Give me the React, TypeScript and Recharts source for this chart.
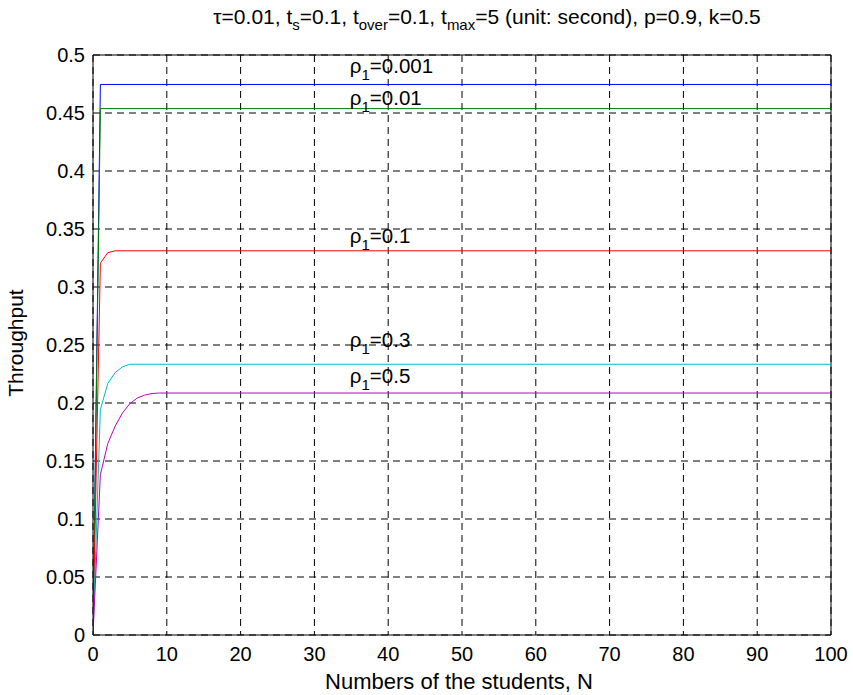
import { LineChart, Line, XAxis, YAxis, CartesianGrid, ReferenceLine, ReferenceDot } from "recharts";

type Pt = { n: number; v: number };

// throughput vs. number of students, one curve per rho_1
const rho0001: Pt[] = [
  { n: 0, v: 0 },
  { n: 1, v: 0.4746 },
  { n: 100, v: 0.4746 },
];
const rho001: Pt[] = [
  { n: 0, v: 0 },
  { n: 1, v: 0.4538 },
  { n: 100, v: 0.4538 },
];
const rho01: Pt[] = [
  { n: 0, v: 0 },
  { n: 1, v: 0.3206 },
  { n: 2, v: 0.3296 },
  { n: 3, v: 0.3312 },
  { n: 100, v: 0.3312 },
];
const rho03: Pt[] = [
  { n: 0, v: 0 },
  { n: 1, v: 0.1944 },
  { n: 2, v: 0.2168 },
  { n: 3, v: 0.2262 },
  { n: 4, v: 0.2312 },
  { n: 5, v: 0.2334 },
  { n: 100, v: 0.2334 },
];
const rho05: Pt[] = [
  { n: 0, v: 0 },
  { n: 1, v: 0.1383 },
  { n: 2, v: 0.165 },
  { n: 3, v: 0.18 },
  { n: 4, v: 0.1915 },
  { n: 5, v: 0.1995 },
  { n: 6, v: 0.2043 },
  { n: 7, v: 0.2068 },
  { n: 8, v: 0.2082 },
  { n: 9, v: 0.2086 },
  { n: 100, v: 0.2086 },
];

const xTicks = [0, 10, 20, 30, 40, 50, 60, 70, 80, 90, 100];
const yTicks = [0, 0.05, 0.1, 0.15, 0.2, 0.25, 0.3, 0.35, 0.4, 0.45, 0.5];

// curve annotations: rho_1 value, text anchor (n, throughput)
const rhoLabels = ["0.001", "0.01", "0.1", "0.3", "0.5"];
const labelN = [34.8, 34.8, 34.8, 34.8, 34.8];
const labelY = [0.4847, 0.4569, 0.3379, 0.2483, 0.2172];

const series = [
  { data: rho0001, color: "#0000ff" },
  { data: rho001, color: "#008000" },
  { data: rho01, color: "#ff0000" },
  { data: rho03, color: "#00bfbf" },
  { data: rho05, color: "#bf00bf" },
];

const FONT = "'Liberation Sans', Arial, Helvetica, sans-serif";

const RhoLabel = ({ viewBox, value }: any) => {
  const x = viewBox.x + viewBox.width / 2;
  const y = viewBox.y + viewBox.height / 2;
  return (
    <text x={x} y={y} fontFamily={FONT} fontSize={20.5} fill="#000">
      ρ
      <tspan fontSize={15} dy={7}>
        1
      </tspan>
      <tspan dy={-7}>={value}</tspan>
    </text>
  );
};

export default function App() {
  return (
    <div style={{ position: "absolute", left: 0, top: 0, width: 853, height: 695, background: "#fff" }}>
      <LineChart
        width={853}
        height={695}
        margin={{ top: 55, right: 22, bottom: 30, left: 33 }}
      >
        <CartesianGrid stroke="#000" strokeDasharray="7 5" strokeWidth={1} />
        <XAxis
          type="number"
          dataKey="n"
          domain={[0, 100]}
          ticks={xTicks}
          allowDataOverflow
          height={30}
          tickSize={0}
          tickMargin={12}
          axisLine={{ stroke: "#000" }}
          tick={{ fill: "#000", fontSize: 20, fontFamily: FONT }}
        />
        <YAxis
          type="number"
          domain={[0, 0.5]}
          ticks={yTicks}
          allowDataOverflow
          width={60}
          tickSize={0}
          tickMargin={8}
          axisLine={{ stroke: "#000" }}
          tick={{ fill: "#000", fontSize: 20, fontFamily: FONT }}
        />
        <ReferenceLine y={0.5} stroke="#000" />
        <ReferenceLine x={100} stroke="#000" />
        {series.map((s, i) => (
          <Line
            key={i}
            data={s.data}
            dataKey="v"
            type="linear"
            stroke={s.color}
            strokeWidth={1}
            dot={false}
            isAnimationActive={false}
          />
        ))}
        {rhoLabels.map((r, i) => (
          <ReferenceDot
            key={r}
            x={labelN[i]}
            y={labelY[i]}
            r={1}
            fill="none"
            stroke="none"
            label={(p: any) => <RhoLabel {...p} value={r} />}
          />
        ))}
      </LineChart>
      <svg
        width={853}
        height={695}
        style={{ position: "absolute", left: 0, top: 0, pointerEvents: "none" }}
      >
        <text x={487} y={24} textAnchor="middle" fontFamily={FONT} fontSize={21} fill="#000">
          τ=0.01, t
          <tspan fontSize={15} dy={6}>s</tspan>
          <tspan dy={-6}>=0.1, t</tspan>
          <tspan fontSize={15} dy={6}>over</tspan>
          <tspan dy={-6}>=0.1, t</tspan>
          <tspan fontSize={15} dy={6}>max</tspan>
          <tspan dy={-6}>=5 (unit: second), p=0.9, k=0.5</tspan>
        </text>
        <text x={459} y={689} textAnchor="middle" fontFamily={FONT} fontSize={22} fill="#000">
          Numbers of the students, N
        </text>
        <text
          x={23}
          y={343}
          textAnchor="middle"
          transform="rotate(-90 23 343)"
          fontFamily={FONT}
          fontSize={21}
          fill="#000"
        >
          Throughput
        </text>
      </svg>
    </div>
  );
}
